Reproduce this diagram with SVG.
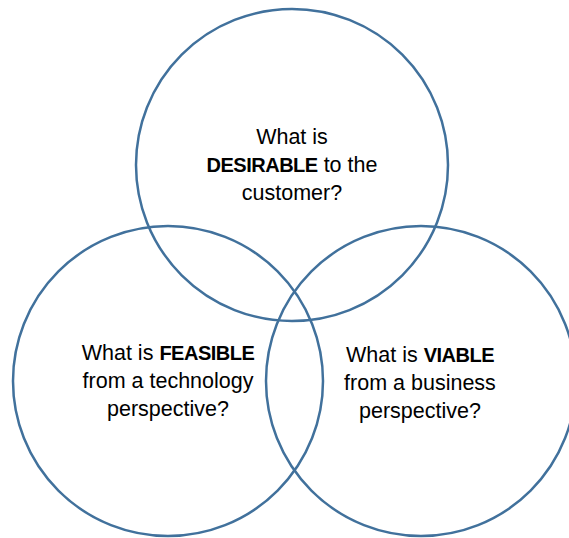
<svg xmlns="http://www.w3.org/2000/svg" width="569" height="538" viewBox="0 0 569 538">
<style>
.c{fill:none;stroke:#41719C;stroke-width:2.5}
text{font-family:"Liberation Sans",Arial,sans-serif;font-size:21.5px;fill:#000;text-anchor:middle}
.b{font-weight:bold;font-size:20px;letter-spacing:-0.5px}
</style>
<rect width="569" height="538" fill="#fff"/>
<g id="connectors"></g>
<g id="desirable">
<circle class="c" cx="292" cy="165" r="156"/>
<text x="292" y="144">What is</text>
<text x="292" y="172"><tspan class="b">DESIRABLE</tspan> to the</text>
<text x="292" y="200">customer?</text>
</g>
<g id="feasible">
<circle class="c" cx="168" cy="381" r="155"/>
<text x="168" y="360">What is <tspan class="b">FEASIBLE</tspan></text>
<text x="168" y="388">from a technology</text>
<text x="168" y="416">perspective?</text>
</g>
<g id="viable">
<circle class="c" cx="421" cy="381" r="155"/>
<text x="420" y="362">What is <tspan class="b">VIABLE</tspan></text>
<text x="420" y="390">from a business</text>
<text x="420" y="418">perspective?</text>
</g>
</svg>
